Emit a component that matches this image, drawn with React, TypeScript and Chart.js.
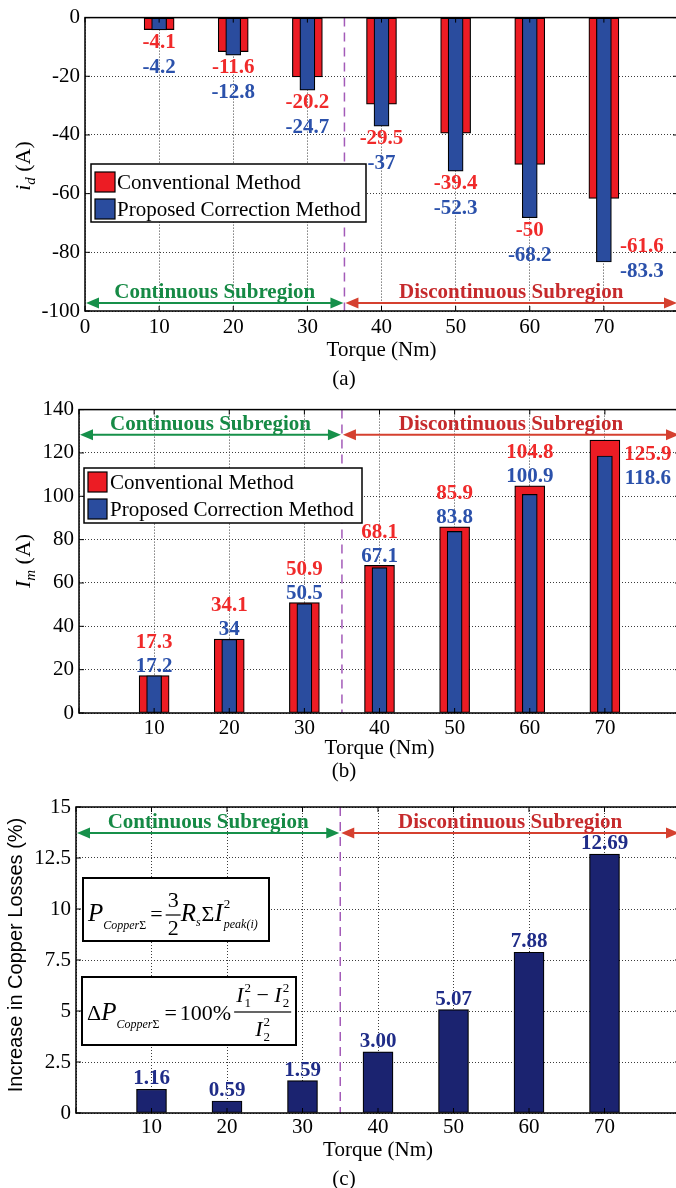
import React, { useEffect, useRef } from 'react';
import { Chart, registerables } from 'chart.js';

Chart.register(...registerables);

// ---------------- data ----------------
const torque = [10, 20, 30, 40, 50, 60, 70];
const idConventional = [-4.1, -11.6, -20.2, -29.5, -39.4, -50, -61.6];
const idProposed = [-4.2, -12.8, -24.7, -37, -52.3, -68.2, -83.3];
const imConventional = [17.3, 34.1, 50.9, 68.1, 85.9, 104.8, 125.9];
const imProposed = [17.2, 34, 50.5, 67.1, 83.8, 100.9, 118.6];
const copperIncrease = [1.16, 0.59, 1.59, 3.0, 5.07, 7.88, 12.69];
const seriesNames = ['Conventional Method', 'Proposed Correction Method'];
const regionNames = ['Continuous Subregion', 'Discontinuous Subregion'];
const boundaryTorque = 35;
const torqueRange = [0, 80];
const idRange = [-100, 0, 20];
const imRange = [0, 140, 20];
const lossRange = [0, 15, 2.5];
const regionArrowLevels = [-97.3, 128.4, 13.73];
const captions = ['(a)', '(b)', '(c)'];
const xTitle = 'Torque (Nm)';

// ---------------- styles ----------------
const SERIF = '"Liberation Serif", "Times New Roman", serif';
const SANS = '"Liberation Sans", Arial, sans-serif';
const C = {
  red: '#ec1c24',
  blue: '#2a4c9e',
  navy: '#1b2370',
  redText: '#f02a2a',
  blueText: '#2b51ab',
  navyText: '#1f2c88',
  green: '#16904a',
  greenText: '#168a45',
  redArrow: '#d5402f',
  redRegion: '#c62a2c',
  purple: '#a35bb8',
  grid: '#3c3c3c',
};
const LABEL_SIZE = 21;

type TextRun = { t: string; f: string; dy?: number; gap?: number };
type StackRun = { stack: { t: string; f: string; dy: number }[]; gap?: number };
type FracRun = { num: Run[]; den: Run[]; bar: number; numDy: number; denDy: number; gap?: number };
type Run = TextRun | StackRun | FracRun;

const it = (s: number) => `italic ${s}px ${SERIF}`;
const rm = (s: number) => `${s}px ${SERIF}`;

function runsWidth(ctx: CanvasRenderingContext2D, runs: Run[]): number {
  let w = 0;
  for (const r of runs) {
    w += r.gap || 0;
    if ('t' in r) {
      ctx.font = r.f;
      w += ctx.measureText(r.t).width;
    } else if ('stack' in r) {
      let m = 0;
      for (const s of r.stack) {
        ctx.font = s.f;
        m = Math.max(m, ctx.measureText(s.t).width);
      }
      w += m;
    } else {
      w += Math.max(runsWidth(ctx, r.num), runsWidth(ctx, r.den)) + 4;
    }
  }
  return w;
}

function drawRuns(ctx: CanvasRenderingContext2D, x: number, y: number, runs: Run[]): number {
  ctx.textAlign = 'left';
  ctx.textBaseline = 'alphabetic';
  for (const r of runs) {
    x += r.gap || 0;
    if ('t' in r) {
      ctx.font = r.f;
      ctx.fillText(r.t, x, y + (r.dy || 0));
      x += ctx.measureText(r.t).width;
    } else if ('stack' in r) {
      let m = 0;
      for (const s of r.stack) {
        ctx.font = s.f;
        ctx.fillText(s.t, x, y + s.dy);
        m = Math.max(m, ctx.measureText(s.t).width);
      }
      x += m;
    } else {
      const wn = runsWidth(ctx, r.num);
      const wd = runsWidth(ctx, r.den);
      const w = Math.max(wn, wd) + 4;
      drawRuns(ctx, x + (w - wn) / 2, y + r.numDy, r.num);
      drawRuns(ctx, x + (w - wd) / 2, y + r.denDy, r.den);
      ctx.fillRect(x, y + r.bar - 0.6, w, 1.2);
      x += w;
    }
  }
  return x;
}

const formulaCopper: Run[] = [
  { t: 'P', f: it(25) },
  { t: 'Copper', f: it(12), dy: 8 },
  { t: 'Σ', f: rm(12), dy: 8 },
  { t: '=', f: rm(22), gap: 4 },
  { num: [{ t: '3', f: rm(22) }], den: [{ t: '2', f: rm(22) }], bar: -6, numDy: -14, denDy: 14, gap: 3 },
  { t: 'R', f: it(25) },
  { t: 's', f: it(12), dy: 5 },
  { t: 'Σ', f: rm(22), gap: 1 },
  { t: 'I', f: it(25) },
  { stack: [{ t: '2', f: rm(13), dy: -13 }, { t: 'peak(i)', f: it(12), dy: 7 }], gap: 1 },
];
const I2 = (s: string): Run[] => [
  { t: 'I', f: it(22) },
  { stack: [{ t: '2', f: rm(13), dy: -10 }, { t: s, f: rm(13), dy: 5 }], gap: 1 },
];
const formulaDelta: Run[] = [
  { t: 'Δ', f: rm(22) },
  { t: 'P', f: it(25) },
  { t: 'Copper', f: it(12), dy: 8 },
  { t: 'Σ', f: rm(12), dy: 8 },
  { t: '=', f: rm(22), gap: 5 },
  { t: '100%', f: rm(22), gap: 3 },
  { num: [...I2('1'), { t: ' − ', f: rm(22) }, ...I2('2')], den: I2('2'), bar: -8, numDy: -18, denDy: 16, gap: 3 },
];

const yTitleA: Run[] = [{ t: 'i', f: it(22) }, { t: 'd', f: it(15), dy: 5 }, { t: ' (A)', f: rm(22) }];
const yTitleB: Run[] = [{ t: 'I', f: it(22) }, { t: 'm', f: it(15), dy: 5 }, { t: ' (A)', f: rm(22) }];
const yTitleC: Run[] = [{ t: 'Increase in Copper Losses (%)', f: `20px ${SANS}` }];

function drawRotated(ctx: CanvasRenderingContext2D, runs: Run[], cx: number, cy: number) {
  ctx.save();
  ctx.fillStyle = '#000';
  ctx.translate(cx, cy);
  ctx.rotate(-Math.PI / 2);
  const w = runsWidth(ctx, runs);
  drawRuns(ctx, -w / 2, 0, runs);
  ctx.restore();
}

function textC(ctx: CanvasRenderingContext2D, s: string, x: number, yc: number, size: number) {
  ctx.textAlign = 'center';
  ctx.textBaseline = 'alphabetic';
  ctx.fillText(s, x, yc + size * 0.34);
}

function drawArrow(ctx: CanvasRenderingContext2D, x0: number, x1: number, y: number, color: string) {
  const hl = 13;
  const hw = 5.5;
  ctx.save();
  ctx.strokeStyle = color;
  ctx.fillStyle = color;
  ctx.lineWidth = 2;
  ctx.setLineDash([]);
  ctx.beginPath();
  ctx.moveTo(x0 + hl - 1, y);
  ctx.lineTo(x1 - hl + 1, y);
  ctx.stroke();
  ctx.beginPath();
  ctx.moveTo(x0, y);
  ctx.lineTo(x0 + hl, y - hw);
  ctx.lineTo(x0 + hl, y + hw);
  ctx.closePath();
  ctx.fill();
  ctx.beginPath();
  ctx.moveTo(x1, y);
  ctx.lineTo(x1 - hl, y - hw);
  ctx.lineTo(x1 - hl, y + hw);
  ctx.closePath();
  ctx.fill();
  ctx.restore();
}

function commonDecor(chart: any, level: number) {
  const { ctx, chartArea: a } = chart;
  const xs = chart.scales.x;
  const ys = chart.scales.y;
  const xb = xs.getPixelForValue(boundaryTorque);
  ctx.save();
  ctx.strokeStyle = C.purple;
  ctx.lineWidth = 1.5;
  ctx.setLineDash([9, 6]);
  ctx.beginPath();
  ctx.moveTo(xb, a.top);
  ctx.lineTo(xb, a.bottom);
  ctx.stroke();
  ctx.restore();
  const ya = ys.getPixelForValue(level);
  const xl = xs.getPixelForValue(torqueRange[0]);
  const xr = xs.getPixelForValue(torqueRange[1]);
  drawArrow(ctx, xl + 1, xb - 1, ya, C.green);
  drawArrow(ctx, xb + 1, xr - 1, ya, C.redArrow);
  ctx.save();
  ctx.font = `bold 21px ${SERIF}`;
  ctx.fillStyle = C.greenText;
  textC(ctx, regionNames[0], (xl + xb) / 2, ya - 12, 21);
  ctx.fillStyle = C.redRegion;
  textC(ctx, regionNames[1], (xb + xr) / 2, ya - 12, 21);
  ctx.restore();
}

function frame(chart: any) {
  const { ctx, chartArea: a } = chart;
  const xs = chart.scales.x;
  const ys = chart.scales.y;
  ctx.save();
  ctx.strokeStyle = '#000';
  ctx.setLineDash([]);
  ctx.lineWidth = 1;
  ctx.beginPath();
  for (const t of xs.ticks) {
    const x = xs.getPixelForValue(t.value);
    ctx.moveTo(x, a.bottom);
    ctx.lineTo(x, a.bottom - 5);
    ctx.moveTo(x, a.top);
    ctx.lineTo(x, a.top + 5);
  }
  for (const t of ys.ticks) {
    const y = ys.getPixelForValue(t.value);
    ctx.moveTo(a.left, y);
    ctx.lineTo(a.left + 5, y);
    ctx.moveTo(a.right, y);
    ctx.lineTo(a.right - 5, y);
  }
  ctx.stroke();
  ctx.lineWidth = 1.5;
  ctx.strokeRect(a.left, a.top, a.right - a.left, a.bottom - a.top);
  ctx.restore();
}

type LegendBox = { x: number; y: number; w: number; h: number; sx: number; sw: number; sh: number; rows: number[]; tx: number };
const LEGEND_A: LegendBox = { x: 91, y: 164, w: 275, h: 58, sx: 95, sw: 20, sh: 20, rows: [172, 199], tx: 117 };
const LEGEND_B: LegendBox = { x: 84, y: 76, w: 278, h: 55, sx: 88, sw: 19, sh: 20, rows: [80, 107], tx: 110 };

function drawLegend(chart: any, L: LegendBox) {
  const { ctx } = chart;
  ctx.save();
  ctx.setLineDash([]);
  ctx.fillStyle = '#fff';
  ctx.fillRect(L.x, L.y, L.w, L.h);
  ctx.strokeStyle = '#000';
  ctx.lineWidth = 1.5;
  ctx.strokeRect(L.x, L.y, L.w, L.h);
  chart.data.datasets.forEach((ds: any, i: number) => {
    const top = L.rows[i];
    ctx.fillStyle = ds.backgroundColor;
    ctx.fillRect(L.sx, top, L.sw, L.sh);
    ctx.lineWidth = 1.2;
    ctx.strokeStyle = '#000';
    ctx.strokeRect(L.sx, top, L.sw, L.sh);
    ctx.fillStyle = '#000';
    ctx.font = rm(21);
    ctx.textAlign = 'left';
    ctx.textBaseline = 'alphabetic';
    ctx.fillText(ds.label, L.tx, top + L.sh / 2 + 21 * 0.34);
  });
  ctx.restore();
}

function drawCaption(chart: any, text: string, y: number) {
  const { ctx } = chart;
  ctx.save();
  ctx.fillStyle = '#000';
  ctx.font = rm(21);
  textC(ctx, text, 344, y, 21);
  ctx.restore();
}

const pluginA = {
  id: 'decorA',
  afterDatasetsDraw(chart: any) {
    const { ctx } = chart;
    const xs = chart.scales.x;
    const ys = chart.scales.y;
    commonDecor(chart, regionArrowLevels[0]);
    ctx.save();
    ctx.font = `bold ${LABEL_SIZE}px ${SERIF}`;
    torque.forEach((t, i) => {
      const last = i === torque.length - 1;
      const x = xs.getPixelForValue(t) + (last ? 38 : 0);
      const redY = ys.getPixelForValue(idProposed[i]) + 11 + (last ? -28 : 0);
      ctx.fillStyle = C.redText;
      textC(ctx, String(idConventional[i]), x, redY, LABEL_SIZE);
      ctx.fillStyle = C.blueText;
      textC(ctx, String(idProposed[i]), x, redY + 25, LABEL_SIZE);
    });
    ctx.restore();
    drawLegend(chart, LEGEND_A);
    frame(chart);
  },
  afterDraw(chart: any) {
    drawRotated(chart.ctx, yTitleA, 30, 166);
    drawCaption(chart, captions[0], 378);
  },
};

const pluginB = {
  id: 'decorB',
  afterDatasetsDraw(chart: any) {
    const { ctx } = chart;
    const xs = chart.scales.x;
    const ys = chart.scales.y;
    commonDecor(chart, regionArrowLevels[1]);
    ctx.save();
    ctx.font = `bold ${LABEL_SIZE}px ${SERIF}`;
    torque.forEach((t, i) => {
      const last = i === torque.length - 1;
      const x = xs.getPixelForValue(t) + (last ? 43 : 0);
      const blueY = ys.getPixelForValue(imConventional[i]) - 11 + (last ? 48 : 0);
      ctx.fillStyle = C.blueText;
      textC(ctx, String(imProposed[i]), x, blueY, LABEL_SIZE);
      ctx.fillStyle = C.redText;
      textC(ctx, String(imConventional[i]), x, blueY - 24, LABEL_SIZE);
    });
    ctx.restore();
    drawLegend(chart, LEGEND_B);
    frame(chart);
  },
  afterDraw(chart: any) {
    drawRotated(chart.ctx, yTitleB, 30, 169);
    drawCaption(chart, captions[1], 378);
  },
};

const pluginC = {
  id: 'decorC',
  afterDatasetsDraw(chart: any) {
    const { ctx } = chart;
    const xs = chart.scales.x;
    const ys = chart.scales.y;
    commonDecor(chart, regionArrowLevels[2]);
    ctx.save();
    ctx.font = `bold ${LABEL_SIZE}px ${SERIF}`;
    ctx.fillStyle = C.navyText;
    torque.forEach((t, i) => {
      textC(ctx, copperIncrease[i].toFixed(2), xs.getPixelForValue(t), ys.getPixelForValue(copperIncrease[i]) - 12, LABEL_SIZE);
    });
    ctx.setLineDash([]);
    const boxes = [
      { x: 83, y: 93, w: 186, h: 63, runs: formulaCopper, tx: 88, base: 136 },
      { x: 82, y: 192, w: 214, h: 68, runs: formulaDelta, tx: 87, base: 235 },
    ];
    for (const b of boxes) {
      ctx.fillStyle = '#fff';
      ctx.fillRect(b.x, b.y, b.w, b.h);
      ctx.strokeStyle = '#000';
      ctx.lineWidth = 2;
      ctx.strokeRect(b.x, b.y, b.w, b.h);
      ctx.fillStyle = '#000';
      drawRuns(ctx, b.tx, b.base, b.runs);
    }
    ctx.restore();
    frame(chart);
  },
  afterDraw(chart: any) {
    drawRotated(chart.ctx, yTitleC, 22, 170);
    drawCaption(chart, captions[2], 393);
  },
};

type Area = { left: number; top: number; right: number; bottom: number };

function buildChart(
  canvas: HTMLCanvasElement,
  o: {
    width: number;
    height: number;
    area: Area;
    yRange: number[];
    datasets: any[];
    hideZero: boolean;
    tickPad: number;
    titlePad: number;
    plugin: any;
  }
) {
  const tickFont = { family: SERIF, size: 21 };
  const axisLabel = (v: any) => String(v);
  return new Chart(canvas, {
    type: 'bar',
    data: { datasets: o.datasets },
    options: {
      responsive: false,
      animation: false,
      devicePixelRatio: 1,
      layout: { padding: { top: o.area.top, right: o.width - o.area.right, left: 0, bottom: 0 } },
      plugins: { legend: { display: false }, tooltip: { enabled: false }, title: { display: false } },
      scales: {
        x: {
          type: 'linear',
          min: torqueRange[0],
          max: torqueRange[1],
          offset: false,
          ticks: {
            stepSize: 10,
            autoSkip: false,
            maxRotation: 0,
            font: tickFont,
            color: '#000',
            padding: o.tickPad,
            callback: (v: any) => (v === torqueRange[1] || (o.hideZero && v === 0) ? '' : axisLabel(v)),
          },
          grid: { color: C.grid, lineWidth: 1, drawTicks: false, offset: false },
          border: { display: false, dash: [1, 2] },
          title: {
            display: true,
            text: xTitle,
            font: { family: SERIF, size: 21 },
            color: '#000',
            padding: { top: 0, bottom: o.titlePad },
          },
          afterFit: (s: any) => {
            s.height = o.height - o.area.bottom;
          },
        },
        y: {
          type: 'linear',
          min: o.yRange[0],
          max: o.yRange[1],
          ticks: { stepSize: o.yRange[2], font: tickFont, color: '#000', padding: 5, callback: axisLabel },
          grid: { color: C.grid, lineWidth: 1, drawTicks: false },
          border: { display: false, dash: [1, 2] },
          afterFit: (s: any) => {
            s.width = o.area.left;
          },
        },
      },
    } as any,
    plugins: [o.plugin],
  });
}

const pts = (ys: number[]) => torque.map((t, i) => ({ x: t, y: ys[i] }));
const barDs = (label: string, data: number[], color: string, width: number, order: number) => ({
  label,
  data: pts(data),
  backgroundColor: color,
  borderColor: '#000',
  borderWidth: 1.2,
  borderSkipped: false,
  grouped: false,
  maxBarThickness: width,
  barPercentage: 1,
  categoryPercentage: 1,
  order,
});

const W = 684;
const H_A = 392;
const H_B = 393;
const H_C = 403;

export default function App() {
  const refA = useRef<HTMLCanvasElement>(null);
  const refB = useRef<HTMLCanvasElement>(null);
  const refC = useRef<HTMLCanvasElement>(null);

  useEffect(() => {
    const charts: Chart[] = [];
    if (refA.current) {
      charts.push(
        buildChart(refA.current, {
          width: W,
          height: H_A,
          area: { left: 85, top: 14, right: 678, bottom: 311 },
          yRange: idRange,
          datasets: [
            barDs(seriesNames[0], idConventional, C.red, 30, 2),
            barDs(seriesNames[1], idProposed, C.blue, 15, 1),
          ],
          hideZero: false,
          tickPad: 4,
          titlePad: 29,
          plugin: pluginA,
        })
      );
    }
    if (refB.current) {
      charts.push(
        buildChart(refB.current, {
          width: W,
          height: H_B,
          area: { left: 79, top: 16, right: 680, bottom: 321 },
          yRange: imRange,
          datasets: [
            barDs(seriesNames[0], imConventional, C.red, 30, 2),
            barDs(seriesNames[1], imProposed, C.blue, 15, 1),
          ],
          hideZero: true,
          tickPad: 3,
          titlePad: 24,
          plugin: pluginB,
        })
      );
    }
    if (refC.current) {
      charts.push(
        buildChart(refC.current, {
          width: W,
          height: H_C,
          area: { left: 76, top: 22, right: 680, bottom: 328 },
          yRange: lossRange,
          datasets: [barDs('Increase in Copper Losses', copperIncrease, C.navy, 30, 1)],
          hideZero: true,
          tickPad: 2,
          titlePad: 25,
          plugin: pluginC,
        })
      );
    }
    return () => charts.forEach((c) => c.destroy());
  }, []);

  const cs = (top: number): React.CSSProperties => ({ position: 'absolute', left: 0, top });
  return (
    <div style={{ position: 'absolute', left: 0, top: 0, width: 676, height: 1188, overflow: 'hidden', background: '#fff' }}>
      <canvas ref={refA} width={W} height={H_A} style={cs(0)} />
      <canvas ref={refB} width={W} height={H_B} style={cs(392)} />
      <canvas ref={refC} width={W} height={H_C} style={cs(785)} />
    </div>
  );
}
